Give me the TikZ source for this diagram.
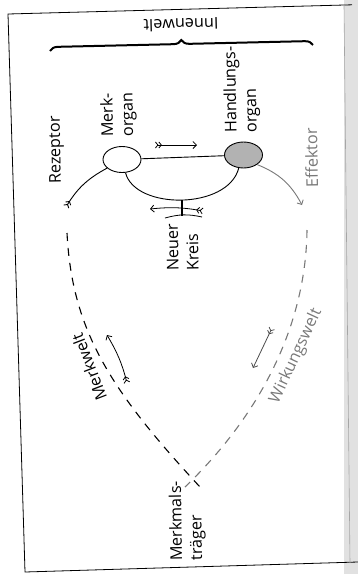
\documentclass[tikz,border=0pt]{standalone}
\usepackage{fontspec}
\setmainfont{Open Sans}
\usetikzlibrary{arrows.meta,shapes.geometric,decorations.pathreplacing}
\definecolor{hGray}{RGB}{178,178,178}
\definecolor{fGray}{RGB}{120,120,120}
\definecolor{gutter}{RGB}{225,225,225}

\begin{document}
\begin{tikzpicture}[x=1pt, y=-1pt, font=\fontsize{16.2}{20}\selectfont,
  organ/.style={ellipse, draw, line width=0.9pt, minimum width=38pt, minimum height=26pt, inner sep=0pt},
  vtext/.style={rotate=91, anchor=west, align=left, inner sep=0pt},
  world/.style={line width=1.1pt, dash pattern=on 8pt off 7pt},
  featherarrow/.style={{Straight Barb[reversed,length=2.5pt,width=6pt]Straight Barb[reversed,length=2.5pt,width=6pt]}-{Straight Barb[length=3.5pt,width=7pt]}}]

  % Page frame of the scan
  \useasboundingbox (0,0) rectangle (358,574);
  \fill[gutter] (344,0) rectangle (358,574);
  \draw[line width=0.8pt] (352,4.8) -- (8,14) -- (25,572) -- (358,562);
  \draw[black!35, line width=0.6pt] (344,5) -- (350,563);

  % Organs
  \node[organ, fill=white] (merk) at (122,159.5) {};
  \node[organ, fill=hGray] (handl) at (243.5,155) {};

  % Labels
  \node[vtext] (merklab) at (119,137) {Merk-\\organ};
  \node[vtext] (handllab) at (242.5,133) {Handlungs-\\organ};
  \node[vtext] (rezlab) at (57,184) {Rezeptor};
  \node[vtext, text=fGray] (efflab) at (312,188) {Effektor};
  \node[vtext] (kreislab) at (183,271) {Neuer\\Kreis};
  \node[vtext] (traeger) at (188,561) {Merkmals-\\träger};
  \node[rotate=181.5, inner sep=0pt] (innen) at (181,25) {Innenwelt};
  \node[rotate=111, inner sep=0pt] (mwelt) at (89,367) {Merkwelt};
  \node[rotate=65, inner sep=0pt, text=fGray] (wwelt) at (296,356) {Wirkungswelt};

  % Free ends
  \coordinate (rezend) at (66,207);
  \coordinate (effend) at (302,205);
  \coordinate (mw0) at (67,233);
  \coordinate (mw1) at (200,487);
  \coordinate (ww0) at (307,230);
  \coordinate (ww1) at (185,487);
  \coordinate (braceL) at (50,51);
  \coordinate (braceR) at (313,45);

  % Inner circle
  \draw[line width=0.9pt] (merk) -- (handl);
  \draw[line width=0.9pt] (merk.-75) .. controls (135,210) and (228,210) .. coordinate[pos=0.5] (stem) (handl.-110);
  \draw[line width=0.9pt, {Straight Barb[reversed,length=2.5pt,width=6pt]Straight Barb[reversed,length=2.5pt,width=6pt]}-] (rezend) to[bend left=15] (merk.-150);
  \draw[line width=0.9pt, fGray, -{Straight Barb[length=3.5pt,width=7pt]}] (handl.-35) to[bend left=20] (effend);

  % Neuer Kreis
  \draw[line width=2pt] (stem) -- ++(0,16) coordinate (stemend);
  \coordinate (nk1) at (203,211);
  \coordinate (nk2) at (150,209);
  \coordinate (nk3) at (165,218);
  \coordinate (nk4) at (202,217);
  \draw[featherarrow, line width=0.8pt] (nk1) to[bend right=8] (nk2);
  \draw[line width=0.8pt] (nk3) to[bend left=14] (nk4);

  % Outer circle
  \draw[world] (mw0) .. controls (72,330) and (110,390) .. (mw1);
  \draw[world, fGray] (ww0) .. controls (306,320) and (265,410) .. (ww1);

  % Direction arrows
  \coordinate (da1) at (155,145);
  \coordinate (da2) at (197,145);
  \coordinate (da3) at (127,383);
  \coordinate (da4) at (107,335);
  \coordinate (da5) at (272,328);
  \coordinate (da6) at (253,368);
  \draw[featherarrow, line width=0.8pt] (da1) -- (da2);
  \draw[featherarrow, line width=0.8pt] (da3) to[bend right=8] (da4);
  \draw[featherarrow, line width=0.8pt, black!70] (da5) -- (da6);

  % Innenwelt brace
  \draw[line width=2pt, decorate, decoration={brace, amplitude=8pt}] (braceL) -- (braceR);

\end{tikzpicture}
\end{document}
